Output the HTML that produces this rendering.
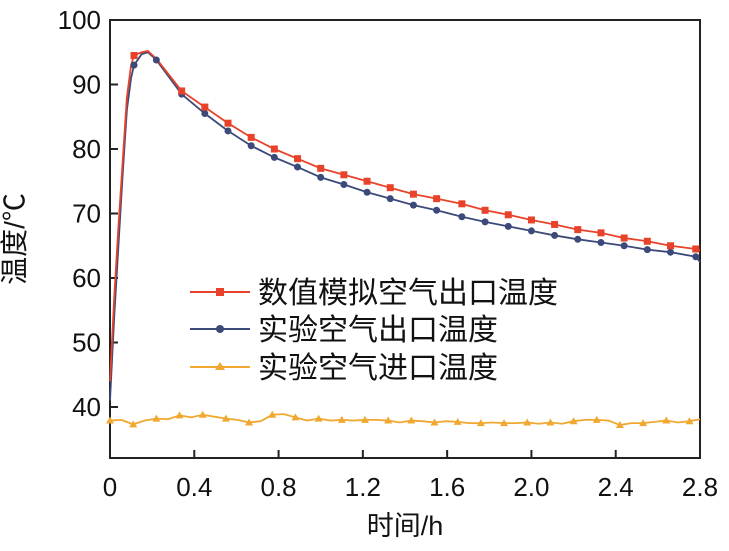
<!DOCTYPE html>
<html><head><meta charset="utf-8"><style>
body{margin:0;background:#fff}
svg text{font-family:"Liberation Sans","Noto Sans CJK SC",sans-serif;fill:#111}
</style></head><body>
<svg width="729" height="546" viewBox="0 0 729 546">
<rect x="110" y="20" width="590" height="438" fill="none" stroke="#222" stroke-width="2"/>
<g id="ticks"></g>
<g id="series"></g>
<text x="24" y="239" font-size="28" text-anchor="middle" transform="rotate(-90 24 239)">温度/℃</text>
<text x="405" y="535" font-size="27" text-anchor="middle">时间/h</text>
<g>
<g><line x1="190" y1="292" x2="250" y2="292" stroke="#e8432a" stroke-width="2"/><rect x="216" y="288" width="8" height="8" fill="#e8432a"/><text x="258" y="303" font-size="30">数值模拟空气出口温度</text></g>
<g><line x1="190" y1="329" x2="250" y2="329" stroke="#3c4a7a" stroke-width="2"/><circle cx="220" cy="329" r="4" fill="#3c4a7a"/><text x="258" y="340" font-size="30">实验空气出口温度</text></g>
<g><line x1="190" y1="367" x2="250" y2="367" stroke="#f0a830" stroke-width="2"/><polygon points="220,362 225,370 215,370" fill="#f0a830"/><text x="258" y="378" font-size="30">实验空气进口温度</text></g>
</g>
</svg>
<script>
const xTicks=[0,0.4,0.8,1.2,1.6,2.0,2.4,2.8];
const xTickLabels=["0","0.4","0.8","1.2","1.6","2.0","2.4","2.8"];
const yTicks=[40,50,60,70,80,90,100];
const simT=[0,0.02,0.04,0.06,0.08,0.1,0.114,0.15,0.18,0.22,0.34,0.45,0.56,0.67,0.78,0.89,1.0,1.11,1.22,1.33,1.44,1.55,1.67,1.78,1.89,2.0,2.11,2.22,2.33,2.44,2.55,2.66,2.78,2.8];
const simV=[44,57,68,78,88,93,94.5,95,95.2,94,89,86.5,84,81.8,80,78.5,77,76,75,74,73,72.3,71.5,70.5,69.8,69,68.3,67.5,67,66.2,65.7,65,64.5,64.3];
const simMarkIdx=[6,10,11,12,13,14,15,16,17,18,19,20,21,22,23,24,25,26,27,28,29,30,31,32];
const expT=[0,0.02,0.04,0.06,0.08,0.1,0.114,0.15,0.18,0.22,0.34,0.45,0.56,0.67,0.78,0.89,1.0,1.11,1.22,1.33,1.44,1.55,1.67,1.78,1.89,2.0,2.11,2.22,2.33,2.44,2.55,2.66,2.78,2.8];
const expV=[41,54,65,76,86,91,93,94.7,95,93.8,88.5,85.5,82.8,80.5,78.7,77.2,75.6,74.5,73.3,72.3,71.3,70.5,69.5,68.7,68,67.3,66.6,66,65.5,65,64.4,64,63.3,62.5];
const expMarkIdx=[6,9,10,11,12,13,14,15,16,17,18,19,20,21,22,23,24,25,26,27,28,29,30,31,32];
const inT=[0,0.055,0.11,0.165,0.22,0.275,0.33,0.385,0.44,0.495,0.55,0.605,0.66,0.715,0.77,0.825,0.88,0.935,0.99,1.045,1.1,1.155,1.21,1.265,1.32,1.375,1.43,1.485,1.54,1.595,1.65,1.705,1.76,1.815,1.87,1.925,1.98,2.035,2.09,2.145,2.2,2.255,2.31,2.365,2.42,2.475,2.53,2.585,2.64,2.695,2.75,2.8];
const inV=[37.9,38.0,37.3,37.9,38.2,38.1,38.7,38.4,38.8,38.5,38.2,38.0,37.6,37.8,38.8,38.9,38.4,37.9,38.2,37.9,38.0,37.9,38.0,38.0,37.9,37.6,37.9,37.8,37.6,37.8,37.7,37.5,37.5,37.6,37.5,37.5,37.6,37.4,37.6,37.4,37.8,38.0,38.0,37.9,37.2,37.5,37.5,37.7,37.9,37.6,37.8,38.1];
const X=t=>110+t*(590/2.8);
const Y=v=>20+(100-v)*6.45;
const NS="http://www.w3.org/2000/svg";
const tk=document.getElementById('ticks'),se=document.getElementById('series');
function mk(tag,attrs,parent){const e=document.createElementNS(NS,tag);for(const k in attrs)e.setAttribute(k,attrs[k]);parent.appendChild(e);return e;}
xTicks.forEach((t,i)=>{
 const l=mk('line',{x1:X(t),x2:X(t),y1:458,y2:450,stroke:'#222','stroke-width':2},tk);
 
 
 const tx=mk('text',{x:X(t),y:496,'font-size':26,'text-anchor':'middle'},tk);tx.textContent=xTickLabels[i];
 
 
});
yTicks.forEach(v=>{
 const l=mk('line',{x1:110,x2:118,y1:Y(v),y2:Y(v),stroke:'#222','stroke-width':2},tk);
 
 
 const tx=mk('text',{x:101,y:Y(v)+9,'font-size':26,'text-anchor':'end'},tk);tx.textContent=v;
 
 
});
function line(ts,vs,c,name){
 const p=mk('polyline',{points:ts.map((t,i)=>X(t)+','+Y(vs[i])).join(' '),fill:'none',stroke:c,'stroke-width':1.8},se);
 
 
}
line(inT,inV,'#f0a830','inlet-line');
line(expT,expV,'#3c4a7a','exp-outlet-line');
line(simT,simV,'#e8432a','sim-outlet-line');
inT.forEach((t,i)=>{if(i%2)return;const x=X(t),y=Y(inV[i]);
 const m=mk('polygon',{points:`${x},${y-4} ${x+4},${y+3} ${x-4},${y+3}`,fill:'#f0a830'},se);
 
 });
expMarkIdx.forEach(i=>{
 const m=mk('circle',{cx:X(expT[i]),cy:Y(expV[i]),r:3.5,fill:'#3c4a7a'},se);
 
 });
simMarkIdx.forEach(i=>{
 const m=mk('rect',{x:X(simT[i])-3.5,y:Y(simV[i])-3.5,width:7,height:7,fill:'#e8432a'},se);
 
 });
</script>
</body></html>
